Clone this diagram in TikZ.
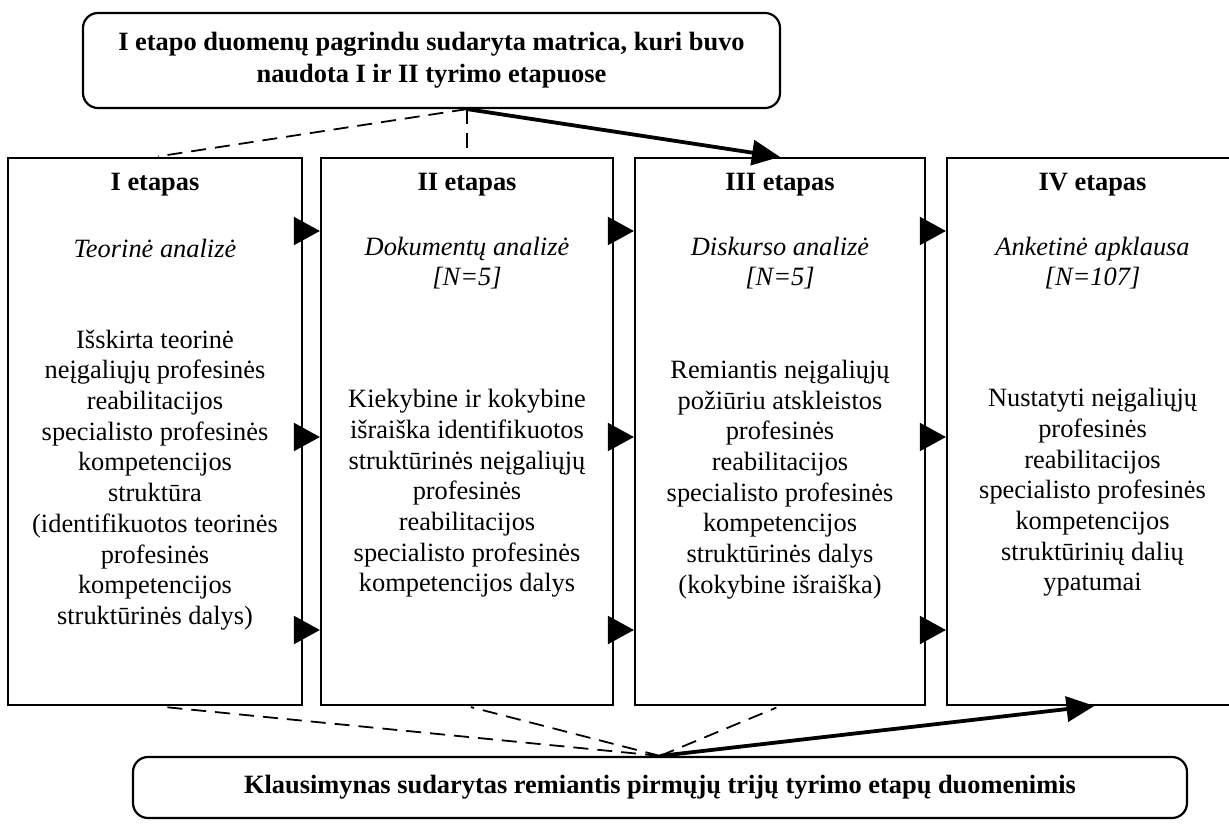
\documentclass[tikz,border=0pt]{standalone}
\usepackage{fontspec}
\setmainfont{Liberation Serif}
\usetikzlibrary{arrows.meta}

\begin{document}
\begin{tikzpicture}[x=0.5pt,y=-0.5pt,
  outline/.style={draw=black,line width=1.1pt},
  stagebox/.style={outline,minimum height=273.5pt,inner sep=0pt},
  notebox/.style={outline,rounded corners=7.5pt,align=center,inner sep=0pt,
    font=\fontsize{13.2}{16}\selectfont\bfseries},
  txt/.style={align=center,inner sep=0pt,font=\fontsize{13.2}{15.35}\selectfont},
  head/.style={txt,font=\fontsize{13.2}{15.35}\selectfont\bfseries},
  method/.style={txt,font=\fontsize{13.2}{15.35}\selectfont\itshape},
  link/.style={line width=0.9pt,dash pattern=on 7.5pt off 4.5pt},
  push/.style={line width=1.9pt,-{Triangle[length=14pt,width=12.5pt]}},
  tri/.style={line width=1pt,-{Triangle[length=13pt,width=14pt]}}]
\useasboundingbox (0,0) rectangle (1229,823);

% virsutine ir apatine dezutes
\node[notebox,minimum width=348.5pt,minimum height=47.5pt] (matrica) at (431.5,60.5)
  {I etapo duomenų pagrindu sudaryta matrica, kuri buvo\\ naudota I ir II tyrimo etapuose};
\node[notebox,minimum width=527pt,minimum height=30.5pt] (klausimynas) at (660,787.5)
  {Klausimynas sudarytas remiantis pirmųjų trijų tyrimo etapų duomenimis};

% etapai
\node[stagebox,minimum width=147pt] (etapasI) at (155,431.5) {};
\node[stagebox,minimum width=146pt] (etapasII) at (467,431.5) {};
\node[stagebox,minimum width=145pt] (etapasIII) at (780,431.5) {};
\node[stagebox,minimum width=145.5pt] (etapasIV) at (1092.5,431.5) {};

\node[head] (hI) at (155,185) {I etapas};
\node[head] (hII) at (467,185) {II etapas};
\node[head] (hIII) at (780,185) {III etapas};
\node[head] (hIV) at (1092.5,185) {IV etapas};

\node[method] (mI) at (155,248) {Teorinė analizė};
\node[method] (mII) at (467,263) {Dokumentų analizė\\ {[N=5]}};
\node[method] (mIII) at (780,263) {Diskurso analizė\\ {[N=5]}};
\node[method] (mIV) at (1092.5,263) {Anketinė apklausa\\ {[N=107]}};

\node[txt] (tI) at (155,480) {Išskirta teorinė\\ neįgaliųjų profesinės\\ reabilitacijos\\
  specialisto profesinės\\ kompetencijos\\ struktūra\\ (identifikuotos teorinės\\
  profesinės\\ kompetencijos\\ struktūrinės dalys)};
\node[txt] (tII) at (467,493.5) {Kiekybine ir kokybine\\ išraiška identifikuotos\\
  struktūrinės neįgaliųjų\\ profesinės\\ reabilitacijos\\ specialisto profesinės\\
  kompetencijos dalys};
\node[txt] (tIII) at (780,479.5) {Remiantis neįgaliųjų\\ požiūriu atskleistos\\ profesinės\\
  reabilitacijos\\ specialisto profesinės\\ kompetencijos\\ struktūrinės dalys\\
  (kokybine išraiška)};
\node[txt] (tIV) at (1092.5,492.5) {Nustatyti neįgaliųjų\\ profesinės\\ reabilitacijos\\
  specialisto profesinės\\ kompetencijos\\ struktūrinių dalių\\ ypatumai};

% rodykles tarp etapu
\foreach \a/\b in {etapasI/etapasII,etapasII/etapasIII,etapasIII/etapasIV}
  \foreach \y in {231,437,630}
    \draw[tri] (\a.east |- 0,\y) -- (\b.west |- 0,\y);

% rysiai su matrica
\coordinate (mazgas) at (matrica.south -| etapasII.north);
\draw[link,shorten >=1.5pt] (mazgas) -- (etapasI.north);
\draw[link] (mazgas) -- (etapasII.north);
\draw[push] (mazgas) -- (etapasIII.north);

% rysiai su klausimynu
\draw[link,shorten >=2pt] (klausimynas.north) -- (etapasI.south);
\draw[link,shorten >=2pt] (klausimynas.north) -- (etapasII.south);
\draw[link,shorten >=2pt] (klausimynas.north) -- (etapasIII.south);
\draw[push,shorten >=-1pt] (klausimynas.north) -- (etapasIV.south);
\end{tikzpicture}
\end{document}
